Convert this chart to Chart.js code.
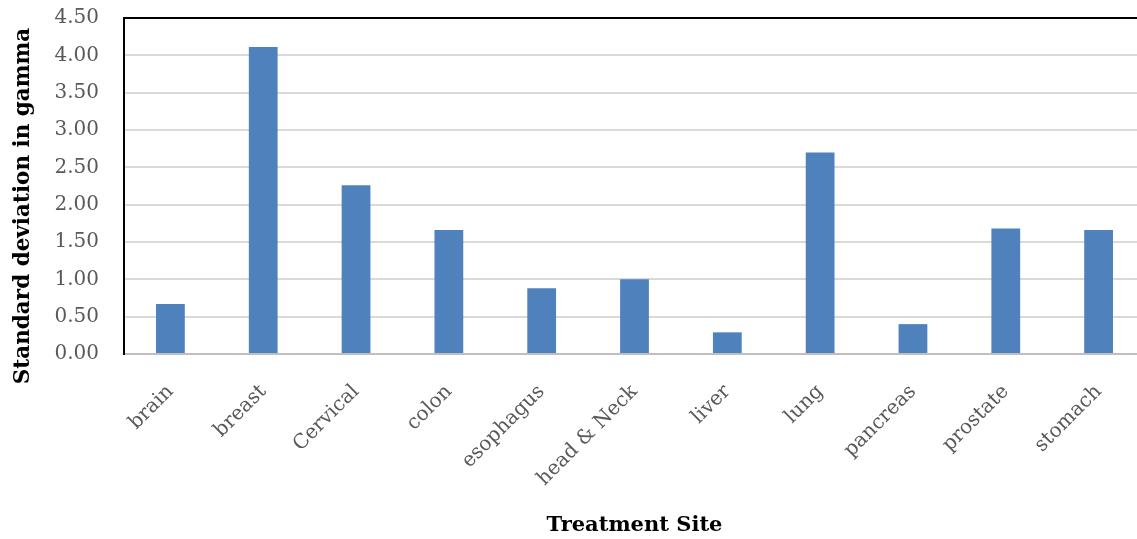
<!DOCTYPE html>
<html lang="en">
<head>
    <meta charset="UTF-8">
    <title>Standard deviation in gamma by treatment site</title>
    <script src="https://cdn.jsdelivr.net/npm/chart.js"></script>
    <style>
        html, body { margin: 0; padding: 0; background: #fff; overflow: hidden; }
        .chart-box { width: 1150px; height: 539px; }
    </style>
</head>
<body>

<div class="chart-box">
    <canvas id="sdChart" width="1150" height="539"></canvas>
</div>

<script>
// data
const sites = ['brain', 'breast', 'Cervical', 'colon', 'esophagus', 'head & Neck',
               'liver', 'lung', 'pancreas', 'prostate', 'stomach'];
const sdGamma = [0.67, 4.11, 2.26, 1.66, 0.88, 1.00, 0.29, 2.70, 0.40, 1.68, 1.66];
const yTicks = [0, 0.5, 1, 1.5, 2, 2.5, 3, 3.5, 4, 4.5];
const yTitle = 'Standard deviation in gamma';

const serif = "'DejaVu Serif', serif";

// Excel puts the y title a bit below the plot centre, so draw it by hand
const yTitlePlugin = {
    id: 'yTitle',
    afterDraw(chart) {
        const c = chart.ctx;
        c.save();
        c.translate(23, 206);
        c.rotate(-Math.PI / 2);
        c.font = 'bold 21.5px ' + serif;
        c.fillStyle = '#000';
        c.textAlign = 'center';
        c.textBaseline = 'middle';
        c.fillText(yTitle, 0, 0);
        c.restore();
    }
};

const ctx = document.getElementById('sdChart').getContext('2d');
new Chart(ctx, {
    type: 'bar',
    data: {
        labels: sites,
        datasets: [{
            label: yTitle,
            data: sdGamma,
            backgroundColor: '#4F81BD',
            borderWidth: 0,
            categoryPercentage: 1,
            barPercentage: 0.31
        }]
    },
    options: {
        responsive: false,
        devicePixelRatio: 1,
        animation: false,
        layout: { padding: { top: 18, right: 5, bottom: 1, left: 0 } },
        plugins: {
            legend: { display: false },
            tooltip: { enabled: false }
        },
        scales: {
            x: {
                grid: { display: false, drawTicks: false },
                border: { color: '#bfbfbf', width: 2 },
                ticks: {
                    color: '#595959',
                    font: { family: serif, size: 20 },
                    minRotation: 45,
                    maxRotation: 45,
                    padding: 26,
                    autoSkip: false
                },
                title: {
                    display: true,
                    text: 'Treatment Site',
                    color: '#000',
                    font: { family: serif, size: 21, weight: 'bold' },
                    padding: { top: 0, bottom: 0 }
                },
                afterFit(scale) { scale.height = 539 - 354 - 1; }
            },
            y: {
                min: 0,
                max: 4.5,
                afterBuildTicks(scale) { scale.ticks = yTicks.map(v => ({ value: v })); },
                grid: {
                    drawTicks: false,
                    lineWidth: 2,
                    color: c => (c.tick && c.tick.value === 4.5 ? '#000' : '#d9d9d9')
                },
                border: { color: '#000', width: 2 },
                ticks: {
                    color: '#595959',
                    font: { family: serif, size: 20 },
                    padding: 25,
                    callback: v => Number(v).toFixed(2)
                },
                afterFit(scale) {
                    scale.width = 124;
                    // tick padding otherwise pushes the plot top down
                    scale.paddingTop = 0;
                    scale.paddingBottom = 0;
                }
            }
        }
    },
    plugins: [yTitlePlugin]
});
</script>

</body>
</html>
